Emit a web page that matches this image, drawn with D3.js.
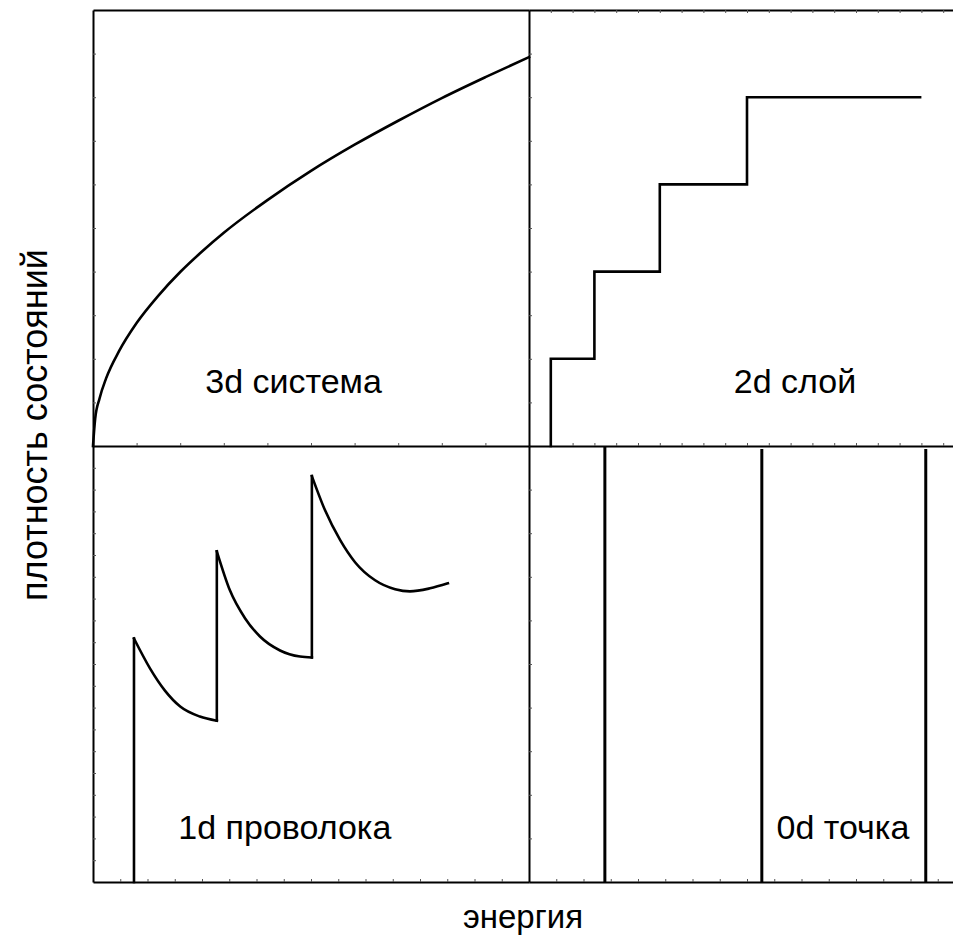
<!DOCTYPE html>
<html lang="ru">
<head>
<meta charset="utf-8">
<title>Плотность состояний</title>
<script src="https://d3js.org/d3.v7.min.js"></script>
<style>
  body { margin: 0; background: #fff; font-family: "Liberation Sans", Arial, sans-serif; }
  .axis path { stroke: #000; stroke-width: 2px; }
  .axis line { stroke: #555; stroke-width: 1px; }
</style>
</head>
<body>
<div id="chart"></div>
<script>
// 3d: energy / density
var e3d   = [0, 0.05, 0.15, 0.3, 0.6, 1, 1.5, 2, 2.5, 3, 4, 5, 6, 7, 8, 9, 10];
var dos3d = [0, 0.63, 1.09, 1.55, 2.18, 2.82, 3.45, 3.99, 4.46, 4.89, 5.64, 6.31, 6.91, 7.46, 7.98, 8.46, 8.92];

// 2d: step edges and levels
var e2d   = [0.5, 1.5, 3.0, 5.0, 8.97];
var dos2d = [2, 4, 6, 8];

// 1d: three sub-bands
var e1d = [
  [0.94, 1.31, 1.65, 2.0, 2.45, 2.84],
  [2.84, 3.14, 3.49, 3.83, 4.29, 4.75, 5.02],
  [5.02, 5.32, 5.67, 6.01, 6.47, 6.93, 7.27, 7.73, 8.14]
];
var dos1d = [
  [11.17, 9.79, 8.78, 8.05, 7.59, 7.40],
  [15.17, 13.38, 12.09, 11.26, 10.62, 10.34, 10.30],
  [18.62, 17.06, 15.68, 14.67, 13.84, 13.43, 13.33, 13.47, 13.70]
];

// 0d: discrete levels
var e0d = [1.74, 5.34, 9.1];

var labels = ["3d система", "2d слой", "1d проволока", "0d точка"];

var W = 953, H = 942;
var padLeft = 93, padTop = 10, size = 436;

var svg = d3.select("#chart").append("svg")
  .attr("width", W).attr("height", H);

function panel(col, row, ydom) {
  var x0 = padLeft + col * size, y0 = padTop + row * size;
  return {
    x: d3.scaleLinear().domain([0, 10]).range([x0, x0 + size]),
    y: d3.scaleLinear().domain([0, ydom]).range([y0 + size, y0]),
    x0: x0, y0: y0
  };
}

var tl = panel(0, 0, 10), tr = panel(1, 0, 10), bl = panel(0, 1, 20), br = panel(1, 1, 10);

// axis helper: n intervals along a side
function side(p, where, n) {
  var g = svg.append("g").attr("class", "axis");
  var s, ax;
  if (where === "left") {
    s = d3.scaleLinear().domain([0, n]).range([p.y0 + size, p.y0]);
    ax = d3.axisLeft(s).tickSize(-3);
    g.attr("transform", "translate(" + p.x0 + ",0)");
  } else {
    s = d3.scaleLinear().domain([0, n || 1]).range([p.x0, p.x0 + size]);
    if (where === "top") {
      ax = d3.axisTop(s).tickSize(-3);
      g.attr("transform", "translate(0," + p.y0 + ")");
    } else {
      ax = d3.axisBottom(s).tickSize(-3);
      g.attr("transform", "translate(0," + (p.y0 + size) + ")");
    }
  }
  ax.tickSizeOuter(0).tickFormat("");
  ax.tickValues(n ? d3.range(1, n) : []);
  g.call(ax);
}

side(tl, "top", 0);
side(tl, "left", 10);
side(tl, "bottom", 10);
side(tr, "top", 20);
side(tr, "left", 10);
side(tr, "bottom", 20);
side(bl, "left", 20);
side(bl, "bottom", 16);
side(br, "left", 10);
side(br, "bottom", 16);

function curveStyle(sel) {
  sel.attr("fill", "none").attr("stroke", "#000")
    .attr("stroke-width", 2.6).attr("stroke-linejoin", "miter")
    .attr("stroke-linecap", "square");
}

// 3d
var pts3d = e3d.map(function(e, i) { return [tl.x(e), tl.y(dos3d[i])]; });
svg.append("path").attr("d", d3.line().curve(d3.curveMonotoneX)(pts3d)).call(curveStyle);

// 2d staircase
var pts2d = [[tr.x(e2d[0]), tr.y(0)]];
dos2d.forEach(function(v, i) {
  pts2d.push([tr.x(e2d[i]), tr.y(v)]);
  pts2d.push([tr.x(e2d[i + 1]), tr.y(v)]);
});
svg.append("path").attr("d", d3.line()(pts2d)).call(curveStyle);

// 1d: vertical band edges + smooth decays
var smooth = d3.line().curve(d3.curveMonotoneX);
e1d.forEach(function(arr, k) {
  var from = k === 0 ? 0 : dos1d[k - 1][dos1d[k - 1].length - 1];
  svg.append("path")
    .attr("d", d3.line()([[bl.x(arr[0]), bl.y(from)], [bl.x(arr[0]), bl.y(dos1d[k][0])]]))
    .call(curveStyle);
  svg.append("path")
    .attr("d", smooth(arr.map(function(e, i) { return [bl.x(e), bl.y(dos1d[k][i])]; })))
    .call(curveStyle);
});

// 0d
svg.selectAll(".lvl").data(e0d).enter().append("line")
  .attr("x1", function(d) { return br.x(d); })
  .attr("x2", function(d) { return br.x(d); })
  .attr("y1", br.y(0)).attr("y2", function(d, i) { return br.y(10) + (i ? 3 : 0); })
  .attr("stroke", "#000").attr("stroke-width", 3);

// panel labels
var labelPos = [[tl, 4.6, 1.22], [tr, 6.1, 1.22], [bl, 4.4, 1.98], [br, 7.2, 0.99]];
labelPos.forEach(function(d, i) {
  svg.append("text")
    .attr("x", d[0].x(d[1])).attr("y", d[0].y(d[2]))
    .attr("text-anchor", "middle")
    .attr("font-size", "34px")
    .text(labels[i]);
});

// axis titles
svg.append("text")
  .attr("x", 523).attr("y", 928)
  .attr("text-anchor", "middle").attr("font-size", "33px")
  .text("энергия");

svg.append("text")
  .attr("transform", "translate(47,425) rotate(-90)")
  .attr("text-anchor", "middle").attr("font-size", "36px")
  .text("плотность состояний");
</script>
</body>
</html>
